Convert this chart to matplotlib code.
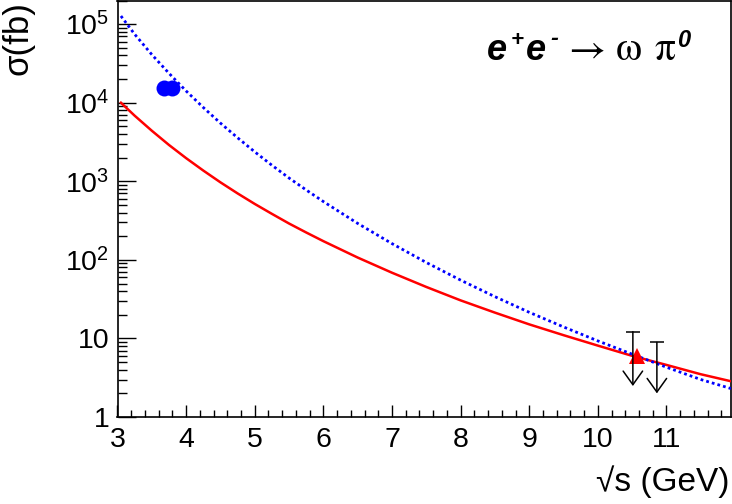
"""Cross section of e+e- -> omega pi0 versus sqrt(s), ROOT-style log plot."""

import matplotlib

matplotlib.use("Agg")
import matplotlib.pyplot as plt
from matplotlib.ticker import FixedLocator, LogLocator, MultipleLocator, NullFormatter

plt.rcParams["font.family"] = ["Liberation Sans", "DejaVu Sans"]

# curves (sqrt(s) in GeV, sigma in fb)
sqrt_s = [3.05, 3.25, 3.5, 3.75, 4.0, 4.25, 4.5, 4.75, 5.0, 5.25, 5.5, 5.75, 6.0, 6.5,
          7.0, 7.5, 8.0, 8.5, 9.0, 9.5, 10.0, 10.5, 11.0, 11.5, 11.94]
sigma_red = [1.0e4, 6.84e3, 4.4e3, 2.9e3, 1.97e3, 1.37e3, 970, 701, 515, 385, 290, 223,
             173, 107, 68.6, 45.2, 30.5, 21.3, 15.1, 11.0, 8.1, 6.0, 4.6, 3.5, 2.85]
sigma_blue = [1.27e5, 7.44e4, 4.1e4, 2.37e4, 1.41e4, 8.7e3, 5.5e3, 3.58e3, 2.37e3, 1.6e3,
              1.1e3, 775, 552, 291, 161, 92.5, 55.2, 34.0, 21.5, 14.0, 9.3, 6.3, 4.3,
              3.0, 2.3]

# measured points
circle_x = [3.68, 3.79]
circle_y = [1.54e4, 1.54e4]
tri_x = [10.57]
tri_y = [5.9]

# upper limits
ul_x = [10.51, 10.86]
ul_top = [12.2, 8.9]
ul_tip = [2.48, 2.0]

fig = plt.figure(figsize=(7.32, 5.04), dpi=100)
ax = fig.add_axes([117.5 / 732, 87 / 504, 613.5 / 732, 416.5 / 504])

ax.plot(sqrt_s, sigma_red, color="#ff0000", lw=1.8, zorder=3)
ax.plot(sqrt_s, sigma_blue, color="#0000ff", lw=2.0, linestyle=(0, (1, 1.1)), zorder=3)
ax.plot(circle_x, circle_y, "o", color="#0000ff", ms=11.5, mew=0, zorder=4)
ax.plot(tri_x, tri_y, "^", color="#ff0000", ms=11, mew=0, zorder=4)

for x, top, tip in zip(ul_x, ul_top, ul_tip):
    ax.annotate(
        "",
        xy=(x, tip),
        xytext=(x, top),
        arrowprops=dict(arrowstyle="->,head_length=0.7,head_width=0.5", color="black",
                        lw=1.1, shrinkA=0, shrinkB=0, mutation_scale=14),
        zorder=5,
    )
    ax.plot([x], [top], marker="_", color="black", ms=9.5, mew=1.1, zorder=5)

ax.set_yscale("log")
ax.set_xlim(3, 11.94)
ax.set_ylim(1, 2e5)

ax.xaxis.set_major_locator(MultipleLocator(1))
ax.xaxis.set_minor_locator(MultipleLocator(0.2))
ax.set_xticks(range(3, 12))
ax.set_xticklabels([str(v) for v in range(3, 12)])

ytick_vals = [1, 10, 1e2, 1e3, 1e4, 1e5]
ytick_labels = ["1", "10", r"$\mathdefault{10^{2}}$", r"$\mathdefault{10^{3}}$",
                r"$\mathdefault{10^{4}}$", r"$\mathdefault{10^{5}}$"]
ax.yaxis.set_major_locator(FixedLocator(ytick_vals))
ax.set_yticklabels(ytick_labels)
ax.yaxis.set_minor_locator(LogLocator(base=10, subs=range(2, 10), numticks=20))
ax.yaxis.set_minor_formatter(NullFormatter())

ax.tick_params(axis="both", which="both", direction="in", top=False, right=False,
               width=1.0, labelsize=20.5, colors="black")
ax.tick_params(axis="x", which="major", length=9, pad=7)
ax.tick_params(axis="x", which="minor", length=5)
ax.tick_params(axis="y", which="major", length=13, pad=6)
ax.tick_params(axis="y", which="minor", length=6.5)
for spine in ax.spines.values():
    spine.set_linewidth(1.2)

fig.text(729 / 732, 6 / 504, "\u221as (GeV)", ha="right", va="bottom", fontsize=24)
fig.text(2 / 732, 503 / 504, "\u03c3(fb)", ha="left", va="top", rotation=90, fontsize=25)

# reaction label, pieced together like ROOT's TLatex
base = 1 - 60 / 504
bi = dict(family="Liberation Sans", weight="bold", style="italic")
sym = dict(family="STIXGeneral")
fig.text(487 / 732, base, "e", va="baseline", fontsize=26, **bi)
fig.text(511 / 732, 1 - 46 / 504, "+", va="baseline", fontsize=16, **bi)
fig.text(526 / 732, base, "e", va="baseline", fontsize=26, **bi)
fig.text(550 / 732, 1 - 45 / 504, "-", va="baseline", fontsize=17, **bi)
fig.text(568 / 732, base, "\u2192", va="baseline", fontsize=29, **sym)
fig.text(616 / 732, base, "\u03c9", va="baseline", fontsize=30, **sym)
fig.text(655 / 732, base, "\u03c0", va="baseline", fontsize=30, **sym)
fig.text(677 / 732, 1 - 47 / 504, "0", va="baseline", fontsize=17, **bi)

fig.savefig("out.png", dpi=100)
